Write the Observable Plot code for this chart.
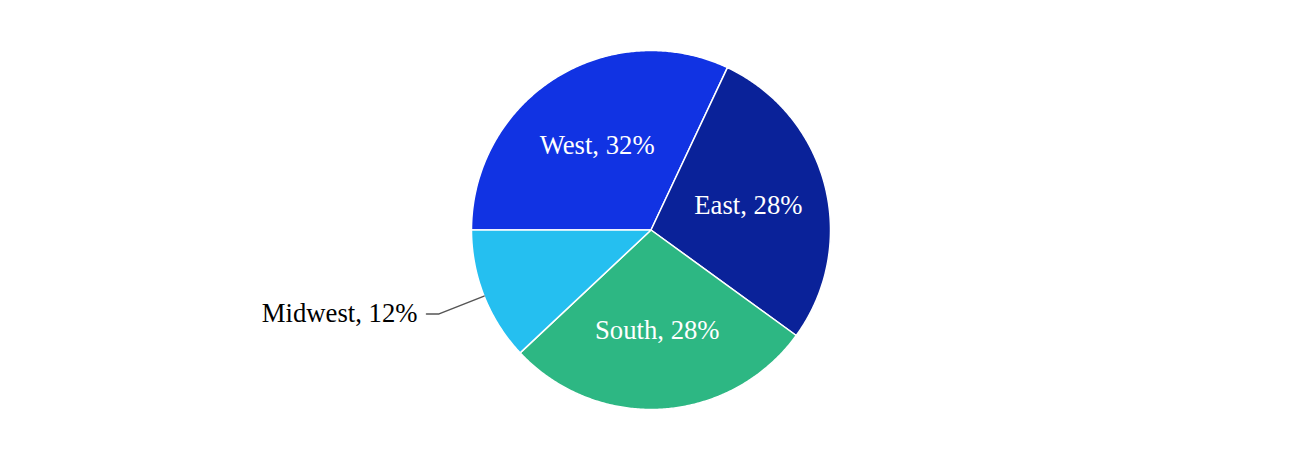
<!DOCTYPE html>
<html>
<head>
<meta charset="utf-8">
<script src="https://cdn.jsdelivr.net/npm/d3@7"></script>
<script src="https://cdn.jsdelivr.net/npm/@observablehq/plot@0.6"></script>
<style>
  body { margin: 0; background: #fff; }
</style>
</head>
<body>
<div id="chart"></div>
<script>
const regions = ["West", "East", "South", "Midwest"];
const shares = [32, 28, 28, 12];
const sliceColors = ["#1133e3", "#0a2299", "#2db783", "#25bff0"];

const deg = Math.PI / 180;
const pie = d3.pie().sort(null).startAngle(-90 * deg).endAngle(270 * deg);
const arcs = pie(shares).map((a, i) => ({...a, region: regions[i], color: sliceColors[i]}));

function slicePoints(a) {
  const pts = [{x: 0, y: 0}];
  const n = Math.max(2, Math.ceil((a.endAngle - a.startAngle) / (0.5 * deg)));
  for (let k = 0; k <= n; k++) {
    const t = a.startAngle + (a.endAngle - a.startAngle) * k / n;
    pts.push({x: Math.sin(t), y: Math.cos(t)});
  }
  return pts;
}

const inside = arcs.filter(a => a.data >= 15);
const outside = arcs.filter(a => a.data < 15);

const labelR = 0.56;
const insideLabels = inside.map(a => {
  const m = (a.startAngle + a.endAngle) / 2;
  return {x: labelR * Math.sin(m), y: labelR * Math.cos(m), text: `${a.region}, ${a.data}%`};
});

const leaders = [];
const outsideLabels = [];
outside.forEach(a => {
  const m = (a.startAngle + a.endAngle) / 2;
  const p0 = {x: Math.sin(m), y: Math.cos(m)};
  const p1 = {x: 1.27 * Math.sin(m), y: 1.27 * Math.cos(m)};
  const dir = Math.sign(p1.x) || 1;
  const p2 = {x: p1.x + dir * 0.07, y: p1.y};
  leaders.push({id: a.region, ...p0}, {id: a.region, ...p1}, {id: a.region, ...p2});
  outsideLabels.push({x: p2.x + dir * 0.05, y: p2.y, text: `${a.region}, ${a.data}%`, anchor: dir < 0 ? "end" : "start"});
});

const chart = Plot.plot({
  width: 1300,
  height: 460,
  margin: 0,
  x: {domain: [-1, 1], range: [471, 830], axis: null},
  y: {domain: [-1, 1], range: [409, 50], axis: null},
  style: {fontFamily: "'Liberation Serif', 'Times New Roman', serif", background: "#fff"},
  marks: [
    ...arcs.map(a => Plot.line(slicePoints(a), {
      x: "x", y: "y", fill: a.color, stroke: "white", strokeWidth: 1.5, curve: "linear-closed"
    })),
    Plot.text(insideLabels, {x: "x", y: "y", text: "text", fill: "white", fontSize: 26.7}),
    Plot.line(leaders, {x: "x", y: "y", z: "id", stroke: "#555", strokeWidth: 1.5}),
    ...outsideLabels.map(l => Plot.text([l], {x: "x", y: "y", text: "text", fill: "black", fontSize: 26.7, textAnchor: l.anchor}))
  ]
});
document.getElementById("chart").appendChild(chart);
</script>
</body>
</html>
